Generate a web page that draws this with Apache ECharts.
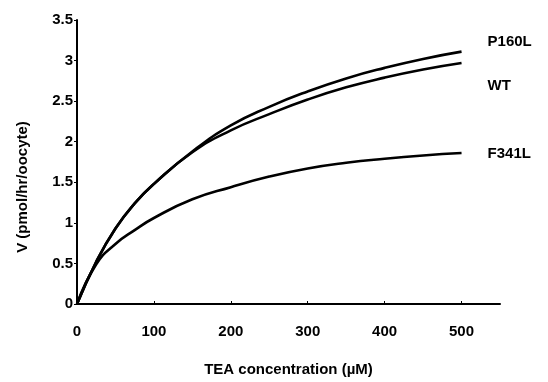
<!DOCTYPE html>
<html><head><meta charset="utf-8">
<script src="https://cdn.jsdelivr.net/npm/echarts@6/dist/echarts.min.js"></script>
<style>html,body{margin:0;padding:0;background:#fff}#c{width:548px;height:382px}</style>
</head><body><div id="c"></div>
<script>
const conc = [0, 25, 50, 75, 100, 150, 200, 250, 300, 350, 400, 450, 500];
const p160l = [0, 0.52, 0.93, 1.24, 1.48, 1.88, 2.20, 2.43, 2.62, 2.78, 2.91, 3.02, 3.11];
const wt = [0, 0.52, 0.93, 1.24, 1.48, 1.87, 2.14, 2.34, 2.52, 2.67, 2.79, 2.89, 2.97];
const f341l = [0, 0.49, 0.74, 0.91, 1.06, 1.29, 1.44, 1.57, 1.67, 1.74, 1.79, 1.83, 1.86];
const seriesNames = ['P160L', 'WT', 'F341L'];
const xTitle = 'TEA concentration (\u00b5M)';
const yTitle = 'V (pmol/hr/oocyte)';

const font = 'Liberation Sans, Arial, sans-serif';
const chart = echarts.init(document.getElementById('c'));
function mk(name, vals, off) {
  return {
    name: name, type: 'line', smooth: 0.5, symbol: 'none',
    data: conc.map((x, i) => [x, vals[i]]),
    lineStyle: {color: '#000', width: 2.6},
    endLabel: {show: true, formatter: name, distance: 0, offset: off,
      color: '#000', fontFamily: font, fontWeight: 'bold', fontSize: 15}
  };
}
chart.setOption({
  animation: false,
  grid: {left: 77, right: 48, top: 20, bottom: 72},
  xAxis: {
    type: 'value', min: 0, max: 550, interval: 100,
    name: xTitle, nameLocation: 'middle', nameGap: 58,
    nameTextStyle: {color: '#000', fontFamily: font, fontWeight: 'bold', fontSize: 15},
    axisLine: {lineStyle: {color: '#000', width: 2}},
    axisTick: {inside: true, length: 3, lineStyle: {color: '#000'}},
    axisLabel: {color: '#000', fontFamily: font, fontWeight: 'bold', fontSize: 15, margin: 20, showMaxLabel: false},
    splitLine: {show: false}
  },
  yAxis: {
    type: 'value', min: 0, max: 3.5, interval: 0.5,
    axisLine: {show: true, lineStyle: {color: '#000', width: 2}},
    axisTick: {show: true, length: 3, lineStyle: {color: '#000'}},
    axisLabel: {color: '#000', fontFamily: font, fontWeight: 'bold', fontSize: 15, margin: 4},
    splitLine: {show: false}
  },
  graphic: [{
    type: 'text', x: 23, y: 187, rotation: Math.PI / 2,
    style: {text: yTitle, fill: '#000', font: 'bold 15px ' + font, align: 'center', verticalAlign: 'middle'}
  }],
  series: [
    mk(seriesNames[0], p160l, [26, -10]),
    mk(seriesNames[1], wt, [26, 23]),
    mk(seriesNames[2], f341l, [26, 1])
  ]
});
</script></body></html>
